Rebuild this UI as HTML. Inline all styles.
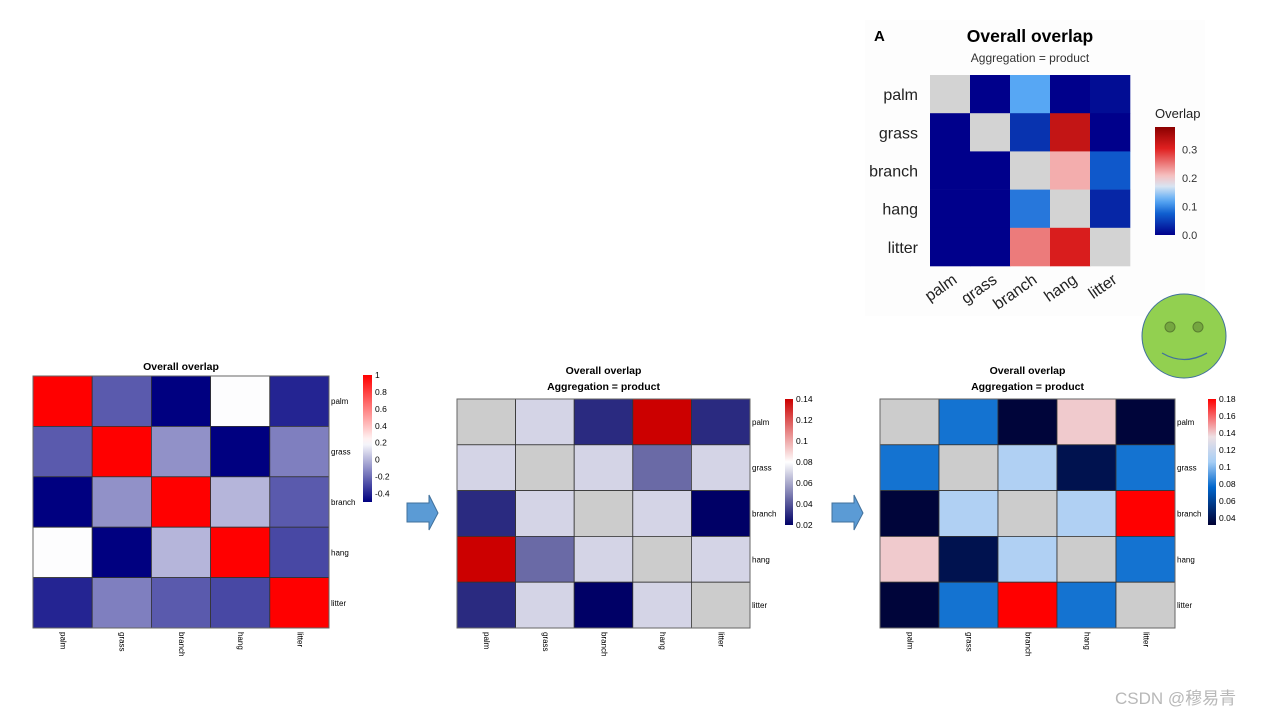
<!DOCTYPE html>
<html><head><meta charset="utf-8"><style>
html,body{margin:0;padding:0;background:#fff;width:1280px;height:720px;overflow:hidden}
svg{font-family:"Liberation Sans",Arial,sans-serif}
</style></head><body>
<svg id="root" width="1280" height="720" viewBox="0 0 1280 720">
<rect x="865" y="20" width="340" height="296" fill="#fdfdfd"/>
<g id="charts"></g>
<g><polygon points="407,503 429,503 429,495 438,513 429,530 429,522 407,522" fill="#5b9bd5" stroke="#41719c" stroke-width="1"/></g>
<g><polygon points="832,503 854,503 854,495 863,513 854,530 854,522 832,522" fill="#5b9bd5" stroke="#41719c" stroke-width="1"/></g>
<g>
<circle cx="1184" cy="336" r="42" fill="#92d050" stroke="#41719c" stroke-width="1"/>
<circle cx="1170" cy="327" r="5" fill="#75a640" stroke="#5a7f30" stroke-width="1"/>
<circle cx="1198" cy="327" r="5" fill="#75a640" stroke="#5a7f30" stroke-width="1"/>
<path d="M1162,353 Q1184,366 1207,353" fill="none" stroke="#41719c" stroke-width="1.3"/>
</g>
<text x="1115" y="704" font-size="17" fill="#b8b8b8" font-family="'Liberation Sans','Noto Sans CJK SC',sans-serif">CSDN @穆易青</text>
</svg>
<script>
const labels = ["palm","grass","branch","hang","litter"];
const vals1 = [[1,-0.25,-0.5,0.2,-0.4],[-0.25,1,-0.1,-0.5,-0.15],[-0.5,-0.1,1,0,-0.25],[0.2,-0.5,0,1,-0.3],[-0.4,-0.15,-0.25,-0.3,1]];
const vals2 = [[null,0.07,0.03,0.14,0.03],[0.07,null,0.07,0.045,0.07],[0.03,0.07,null,0.07,0.02],[0.14,0.045,0.07,null,0.07],[0.03,0.07,0.02,0.07,null]];
const vals3 = [[null,0.08,0.034,0.14,0.034],[0.08,null,0.11,0.04,0.08],[0.034,0.11,null,0.11,0.18],[0.14,0.04,0.11,null,0.08],[0.034,0.08,0.18,0.08,null]];
const valsA = [[null,0,0.12,0,0.01],[0,null,0.04,0.33,0],[0,0,null,0.22,0.07],[0,0,0.09,null,0.03],[0,0,0.25,0.31,null]];
const ticks1 = [1,0.8,0.6,0.4,0.2,0,-0.2,-0.4];
const ticks2 = [0.14,0.12,0.1,0.08,0.06,0.04,0.02];
const ticks3 = [0.18,0.16,0.14,0.12,0.1,0.08,0.06,0.04];
const ticksA = [0.3,0.2,0.1,0.0];

const NS="http://www.w3.org/2000/svg";
const root=document.getElementById('charts');
function mk(tag,at,parent){const e=document.createElementNS(NS,tag);for(const k in at)e.setAttribute(k,at[k]);(parent||root).appendChild(e);return e;}
function hex(h){return [parseInt(h.slice(1,3),16),parseInt(h.slice(3,5),16),parseInt(h.slice(5,7),16)];}
function scale(stops){return function(t){t=Math.max(0,Math.min(1,t));for(let i=1;i<stops.length;i++){if(t<=stops[i][0]){const a=stops[i-1],b=stops[i];const f=(t-a[0])/((b[0]-a[0])||1);const ca=hex(a[1]),cb=hex(b[1]);return 'rgb('+ca.map((c,j)=>Math.round(c+(cb[j]-c)*f)).join(',')+')';}}return stops[stops.length-1][1];};}

function pheat(cfg){
  const g=mk('g',{});
  
  
  const n=labels.length, cw=(cfg.x1-cfg.x0)/n, ch=(cfg.y1-cfg.y0)/n;
  const xs=i=>cfg.x0+i*cw, ys=i=>cfg.y0+i*ch;
  const norm=v=>(v-cfg.min)/(cfg.max-cfg.min);
  cfg.titles.forEach((t,i)=>{const e=mk('text',{x:(cfg.x0+cfg.x1)/2,y:cfg.ty+i*16,'text-anchor':'middle','font-size':10.5,'font-weight':'bold'},g);e.textContent=t;
    
    });
  cfg.vals.forEach((row,r)=>row.forEach((v,c)=>{
    const e=mk('rect',{x:xs(c),y:ys(r),width:cw,height:ch,fill:v===null?'#cccccc':cfg.col(norm(v)),stroke:'#333',"stroke-width":0.8},g);
    
    
  }));
  mk('rect',{x:cfg.x0,y:cfg.y0,width:cfg.x1-cfg.x0,height:cfg.y1-cfg.y0,fill:'none',stroke:'#666','stroke-width':1},g);
  labels.forEach((l,i)=>{
    const e=mk('text',{x:cfg.x1+2,y:ys(i)+ch/2+3,'font-size':8},g);e.textContent=l;
    
    
    const cx=xs(i)+cw/2;
    const f=mk('text',{x:cx,y:cfg.y1+4,'font-size':8,transform:'rotate(90 '+cx+' '+(cfg.y1+4)+')','dominant-baseline':'middle'},g);f.textContent=l;
    
    
  });
  const L=cfg.leg, id='grad'+cfg.name;
  const defs=mk('defs',{},g);const gr=mk('linearGradient',{id:id,x1:0,y1:1,x2:0,y2:0},defs);
  for(let i=0;i<=20;i++)mk('stop',{offset:i/20,'stop-color':cfg.col(i/20)},gr);
  const lb=mk('rect',{x:L.x,y:L.y0,width:L.w,height:L.y1-L.y0,fill:'url(#'+id+')'},g);
  
  
  const ly=v=>L.y1-norm(v)*(L.y1-L.y0);
  cfg.ticks.forEach(t=>{const e=mk('text',{x:L.x+L.w+3,y:ly(t)+3,'font-size':8.5},g);e.textContent=String(t);
    
    });
}

pheat({name:'heatmap-correlation',vals:vals1,x0:33,x1:329,y0:376,y1:628,min:-0.5,max:1,titles:['Overall overlap'],ty:370,
  col:scale([[0,'#000080'],[0.47,'#ffffff'],[1,'#ff0000']]),ticks:ticks1,leg:{x:363,w:9,y0:375,y1:502}});
pheat({name:'heatmap-product',vals:vals2,x0:457,x1:750,y0:399,y1:628,min:0.02,max:0.14,titles:['Overall overlap','Aggregation = product'],ty:374,
  col:scale([[0,'#000066'],[0.5,'#ffffff'],[1,'#cc0000']]),ticks:ticks2,leg:{x:785,w:8,y0:399,y1:525}});
pheat({name:'heatmap-product-rescaled',vals:vals3,x0:880,x1:1175,y0:399,y1:628,min:0.032,max:0.18,titles:['Overall overlap','Aggregation = product'],ty:374,
  col:scale([[0,'#000033'],[0.3,'#0066cc'],[0.5,'#a6cef5'],[0.7,'#eee0e4'],[1,'#ff0000']]),ticks:ticks3,leg:{x:1208,w:8,y0:399,y1:525}});

(function(){
  const g=mk('g',{});
  
  
  const x0=930,x1=1130,y0=75,y1=266,n=5,cw=(x1-x0)/n,ch=(y1-y0)/n,min=0,max=0.38;
  const col=scale([[0,'#00008b'],[0.2,'#1060d0'],[0.32,'#5aaaf5'],[0.45,'#d8e4f2'],[0.55,'#f5c0c0'],[0.8,'#e02020'],[1,'#8b0000']]);
  const norm=v=>(v-min)/(max-min);
  const t1=mk('text',{x:874,y:41,'font-size':15,'font-weight':'bold'},g);t1.textContent='A';
  
  
  const t2=mk('text',{x:1030,y:42,'font-size':17.5,'font-weight':'bold','text-anchor':'middle'},g);t2.textContent='Overall overlap';
  
  
  const t3=mk('text',{x:1030,y:62,'font-size':12,'text-anchor':'middle',fill:'#333'},g);t3.textContent='Aggregation = product';
  
  
  valsA.forEach((row,r)=>row.forEach((v,c)=>{
    const e=mk('rect',{x:x0+c*cw,y:y0+r*ch,width:cw+0.3,height:ch+0.3,fill:v===null?'#d3d3d3':col(norm(v))},g);
    
    
  }));
  labels.forEach((l,i)=>{
    const e=mk('text',{x:918,y:y0+i*ch+ch/2+6,'font-size':16,'text-anchor':'end',fill:'#222'},g);e.textContent=l;
    
    
    const cx=x0+i*cw+cw/2+8, cy=282;
    const f=mk('text',{x:cx,y:cy,'font-size':16,'text-anchor':'end',fill:'#222',transform:'rotate(-35 '+cx+' '+cy+')'},g);f.textContent=l;
    
    
  });
  const lt=mk('text',{x:1155,y:118,'font-size':13,fill:'#222'},g);lt.textContent='Overlap';
  
  
  const defs=mk('defs',{},g);const gr=mk('linearGradient',{id:'gradA',x1:0,y1:1,x2:0,y2:0},defs);
  for(let i=0;i<=20;i++)mk('stop',{offset:i/20,'stop-color':col(i/20)},gr);
  const lb=mk('rect',{x:1155,y:127,width:20,height:108,fill:'url(#gradA)'},g);
  
  
  ticksA.forEach(t=>{const y=235-norm(t)*108;
    const e=mk('text',{x:1182,y:y+4,'font-size':11,fill:'#333'},g);e.textContent=t.toFixed(1);
    
    });
})();
</script>
</body></html>
